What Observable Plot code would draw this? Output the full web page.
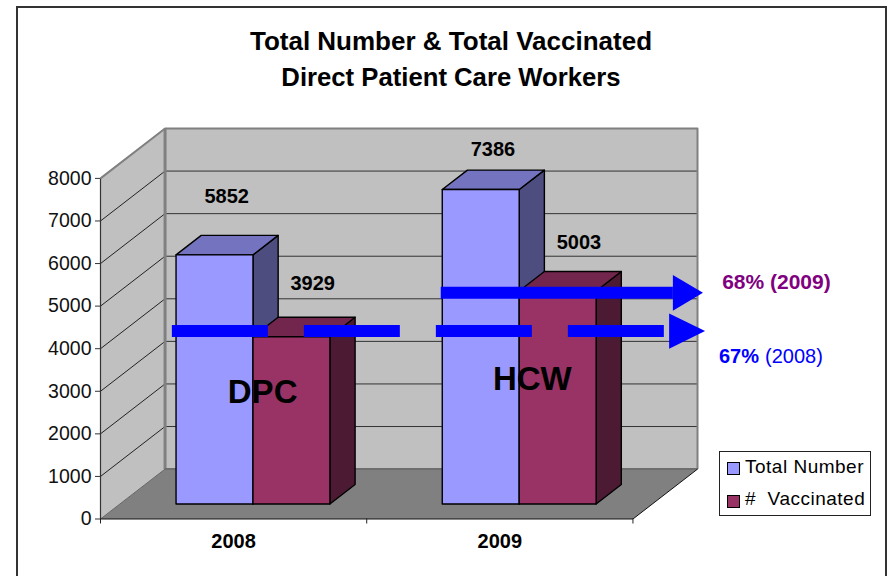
<!DOCTYPE html>
<html>
<head>
<meta charset="utf-8">
<script src="https://cdn.jsdelivr.net/npm/d3@7"></script>
<script src="https://cdn.jsdelivr.net/npm/@observablehq/plot@0.6"></script>
<style>
  html, body { margin: 0; padding: 0; background: #fff; overflow: hidden; }
  #page { position: relative; width: 888px; height: 576px; font-family: "Liberation Sans", Arial, sans-serif; color: #000; overflow: hidden; }
  #page svg { position: absolute; left: 0; top: 0; }
  #frame { position: absolute; left: 16px; top: 6px; width: 867px; height: 600px; border: 2px solid #333; box-sizing: content-box; pointer-events: none; }
  .title { position: absolute; left: 51px; width: 800px; text-align: center; font-weight: bold; font-size: 26px; line-height: 30px; white-space: pre; }
  #legend { position: absolute; left: 719px; top: 451px; width: 150px; height: 63px; border: 1px solid #222; background: #fff; font-size: 19px; }
  .row { position: absolute; left: 25px; white-space: pre; letter-spacing: 0.5px; line-height: 20px; }
  .sw { position: absolute; left: 7px; width: 11px; height: 11px; border: 1px solid #000; }
</style>
</head>
<body>
<div id="page">
  <div id="chart"></div>
  <div id="frame"></div>
  <div class="title" style="top:26px">Total Number &amp; Total Vaccinated</div>
  <div class="title" style="top:62px;font-size:25.7px">Direct Patient Care Workers</div>
  <div id="legend">
    <div class="sw" style="top:10px;background:#9999FF"></div><div class="row" style="top:5px">Total Number</div>
    <div class="sw" style="top:43px;background:#993366"></div><div class="row" style="top:37px">#  Vaccinated</div>
  </div>
</div>
<script>
// Chart values
const years = [2008, 2009];
const totalNumber = [5852, 7386];
const vaccinated = [3929, 5003];
const yTicks = [0, 1000, 2000, 3000, 4000, 5000, 6000, 7000, 8000];
const xTicks = [0, 1, 2];
const yearTicks = [0.5, 1.5];

// Oblique projection of the 3D chart box, in scale units
const depthX = 0.2425, depthY = 1172;
const barFront = 0.3, barBack = 0.69, barWidth = 0.289;
const project = (x, v, depth = 0) => ({x: x + depth * depthX, y: v + depth * depthY});

const F = "Liberation Sans, Arial, sans-serif";
const poly = (pts, fill, stroke = "none", strokeWidth = 1) =>
  Plot.line(pts, {x: "x", y: "y", fill, stroke, strokeWidth, curve: "linear-closed", strokeLinejoin: "round"});
const seg = (pts, stroke, strokeWidth = 1, extra = {}) =>
  Plot.line(pts, {x: "x", y: "y", stroke, strokeWidth, strokeLinecap: "butt", ...extra});

function box(x0, value, c) {
  const x1 = x0 + barWidth;
  const p = (x, v, d) => project(x, v, d);
  return [
    poly([p(x1, 0, barFront), p(x1, 0, barBack), p(x1, value, barBack), p(x1, value, barFront)], c.side, "#000", 1.4),
    poly([p(x0, value, barFront), p(x1, value, barFront), p(x1, value, barBack), p(x0, value, barBack)], c.top, "#000", 1.4),
    poly([p(x0, 0, barFront), p(x1, 0, barFront), p(x1, value, barFront), p(x0, value, barFront)], c.front, "#000", 1.4)
  ];
}

const totalColors = {front: "#9999FF", top: "#7373BF", side: "#4D4D80"};
const vaccColors = {front: "#993366", top: "#73264D", side: "#4D1A33"};

const wall = [
  poly([project(0, 0, 1), project(2, 0, 1), project(2, 8000, 1), project(0, 8000, 1)], "#C0C0C0"),
  poly([project(0, 0), project(0, 0, 1), project(0, 8000, 1), project(0, 8000)], "#C0C0C0"),
  poly([project(0, 0), project(2, 0), project(2, 0, 1), project(0, 0, 1)], "#808080")
];
const grid = yTicks.slice(1, -1).flatMap((v) => [
  seg([project(0, v), project(0, v, 1)], "#222", 1),
  seg([project(0, v, 1), project(2, v, 1)], "#333", 1)
]);
const edges = [
  seg([project(0, 8000), project(0, 8000, 1), project(2, 8000, 1), project(2, 0, 1)], "#808080", 2),
  seg([project(0, 0, 1), project(0, 8000, 1)], "#808080", 3),
  seg([project(0, 0, 1), project(2, 0, 1)], "#6e6e6e", 2),
  seg([project(0, 0), project(0, 0, 1)], "#666", 1),
  seg([project(2, 0), project(2, 0, 1)], "#111", 1),
  seg([project(0, 0), project(2, 0)], "#111", 1.2),
  seg([project(0, 0), project(0, 8000)], "#333", 1.2)
];

const bars = years.flatMap((_, i) => {
  const x0 = yearTicks[i] - barWidth;
  return [...box(x0, totalNumber[i], totalColors), ...box(x0 + barWidth, vaccinated[i], vaccColors)];
});

// Hand-placed value labels
const totalLift = [1714, 1282], vaccLift = [1596, 1484];
const totalShift = -0.026, vaccShift = 0.297;
const valueLabels = years.flatMap((_, i) => [
  {x: yearTicks[i] + totalShift, y: totalNumber[i] + totalLift[i], text: String(totalNumber[i])},
  {x: yearTicks[i] + vaccShift, y: vaccinated[i] + vaccLift[i], text: String(vaccinated[i])}
]);

// Overlaid annotations, in scale units
const arrow2009 = {x0: 1.278, x1: 2.150, tip: 2.263, y: 5314, hi: 5729, lo: 4891};
const arrow2008 = {x0: 0.268, x1: 2.117, base: 2.136, tip: 2.271, y: 4415, hi: 4828, lo: 4000};

const plot = Plot.plot({
  width: 888, height: 576,
  marginLeft: 100, marginRight: 191, marginTop: 128, marginBottom: 57.5,
  x: {domain: [0, 2 + depthX], range: [100, 697]},
  y: {domain: [0, 8000 + depthY], range: [518.5, 128]},
  style: {background: "transparent", fontFamily: F, overflow: "visible"},
  marks: [
    ...wall, ...grid, ...edges, ...bars,
    Plot.axisY({ticks: yTicks, tickFormat: (d) => String(d), tickSize: 5, tickPadding: 4, fontSize: 19.5, label: null, stroke: "#333", fill: "#111"}),
    Plot.axisX({ticks: xTicks, tickFormat: () => "", tickSize: 5, label: null, stroke: "#222"}),
    Plot.axisX({ticks: yearTicks, tickFormat: (d) => String(years[yearTicks.indexOf(d)]), tickSize: 0, tickPadding: 15, fontSize: 20, fontWeight: "bold", label: null}),
    Plot.text(valueLabels, {x: "x", y: "y", text: "text", fontSize: 20, fontWeight: "bold", fill: "#000"}),
    Plot.text([{x: 0.609, y: 2968, t: "DPC"}, {x: 1.622, y: 3273, t: "HCW"}], {x: "x", y: "y", text: "t", fontSize: 33, fontWeight: "bold", fill: "#000"}),
    seg([{x: arrow2009.x0, y: arrow2009.y}, {x: arrow2009.x1, y: arrow2009.y}], "#0000FF", 12),
    poly([{x: arrow2009.x1, y: arrow2009.hi}, {x: arrow2009.tip, y: arrow2009.y}, {x: arrow2009.x1, y: arrow2009.lo}], "#0000FF"),
    seg([{x: arrow2008.x0, y: arrow2008.y}, {x: arrow2008.x1, y: arrow2008.y}], "#0000FF", 12, {strokeDasharray: "96 36"}),
    poly([{x: arrow2008.base, y: arrow2008.hi}, {x: arrow2008.tip, y: arrow2008.y}, {x: arrow2008.base, y: arrow2008.lo}], "#0000FF"),
    Plot.text([{x: 2.335, y: 5572, t: "68% (2009)"}], {x: "x", y: "y", text: "t", textAnchor: "start", fontSize: 21, fontWeight: "bold", fill: "#800080"}),
    Plot.text([{x: 2.323, y: 3812, t: "67%"}], {x: "x", y: "y", text: "t", textAnchor: "start", fontSize: 20, fontWeight: "bold", fill: "#0000FF"}),
    Plot.text([{x: 2.496, y: 3812, t: "(2008)"}], {x: "x", y: "y", text: "t", textAnchor: "start", fontSize: 20, fill: "#0000FF"})
  ]
});
document.getElementById("chart").appendChild(plot);
</script>
</body>
</html>
